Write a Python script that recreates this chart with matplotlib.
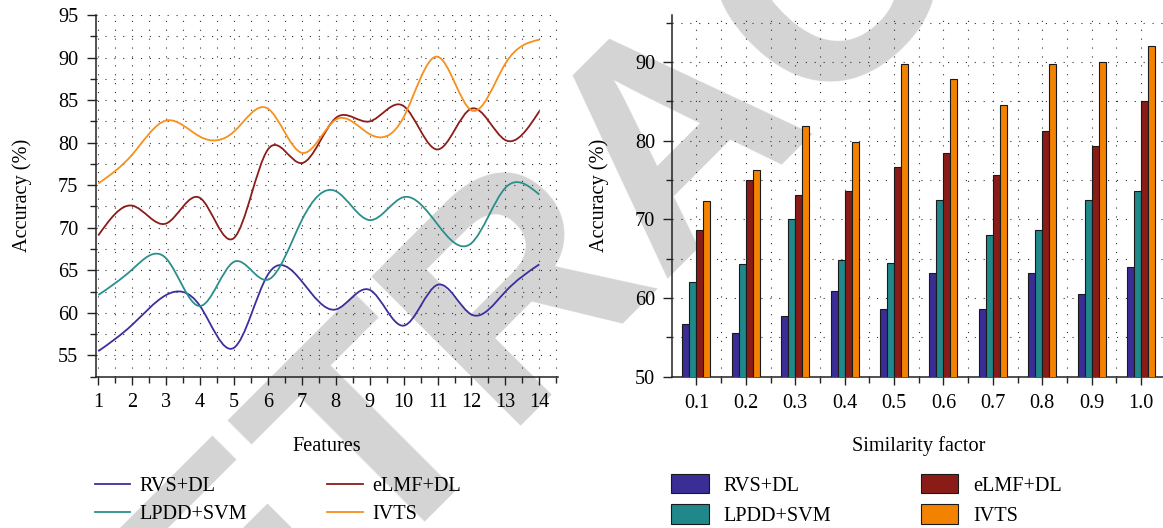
import numpy as np
import matplotlib
matplotlib.use('Agg')
import matplotlib.pyplot as plt
from matplotlib.path import Path
from matplotlib.patches import PathPatch, Patch
from matplotlib.lines import Line2D
from matplotlib.ticker import MultipleLocator, FixedLocator

plt.rcParams['font.family'] = ['Liberation Serif', 'DejaVu Serif']
plt.rcParams['font.size'] = 14.6

# ---------------- data ----------------
features = list(range(1, 15))
rvs_dl_line = [55.5, 58.6, 62.1, 60.8, 55.9, 64.5, 63.7, 60.4, 62.7, 58.5, 63.3, 59.8, 62.5, 65.7]
lpdd_svm_line = [62.1, 65.1, 66.4, 60.8, 66.0, 63.9, 70.9, 74.3, 70.9, 73.6, 70.4, 68.2, 74.7, 73.9]
elmf_dl_line = [69.1, 72.6, 70.5, 73.5, 68.8, 79.2, 77.6, 82.9, 82.5, 84.3, 79.2, 84.0, 80.3, 83.7]
ivts_line = [75.2, 78.6, 82.6, 80.7, 81.3, 84.0, 78.8, 82.7, 81.0, 83.0, 90.1, 83.8, 89.3, 92.1]

similarity = ['0.1', '0.2', '0.3', '0.4', '0.5', '0.6', '0.7', '0.8', '0.9', '1.0']
rvs_dl_bar = [56.7, 55.6, 57.7, 60.9, 58.6, 63.15, 58.6, 63.15, 60.5, 63.9]
lpdd_svm_bar = [62.1, 64.3, 70.1, 64.8, 64.4, 72.5, 68.0, 68.6, 72.5, 73.6]
elmf_dl_bar = [68.7, 75.0, 73.15, 73.6, 76.7, 78.5, 75.7, 81.2, 79.4, 85.0]
ivts_bar = [72.3, 76.3, 81.9, 79.8, 89.8, 87.8, 84.5, 89.8, 90.0, 92.0]

methods = ['RVS+DL', 'LPDD+SVM', 'eLMF+DL', 'IVTS']
line_colors = ['#3b2f9e', '#2a8f8c', '#8b1c1a', '#f7901e']
bar_colors = ['#3a2d96', '#20878a', '#8a1c18', '#f28200']


def smooth_path(x, y):
    """Natural cubic spline through the data, expressed as Bezier segments."""
    x = np.asarray(x, float)
    y = np.asarray(y, float)
    n = len(x)
    h = np.diff(x)
    A = np.zeros((n, n))
    r = np.zeros(n)
    A[0, 0] = A[-1, -1] = 1
    for i in range(1, n - 1):
        A[i, i - 1] = h[i - 1]
        A[i, i] = 2 * (h[i - 1] + h[i])
        A[i, i + 1] = h[i]
        r[i] = 6 * ((y[i + 1] - y[i]) / h[i] - (y[i] - y[i - 1]) / h[i - 1])
    M = np.linalg.solve(A, r)
    d = np.zeros(n)
    for i in range(n - 1):
        d[i] = (y[i + 1] - y[i]) / h[i] - h[i] * (2 * M[i] + M[i + 1]) / 6
    d[-1] = (y[-1] - y[-2]) / h[-1] + h[-1] * (M[-2] + 2 * M[-1]) / 6
    verts = [(x[0], y[0])]
    codes = [Path.MOVETO]
    for i in range(n - 1):
        verts += [(x[i] + h[i] / 3, y[i] + h[i] * d[i] / 3),
                  (x[i + 1] - h[i] / 3, y[i + 1] - h[i] * d[i + 1] / 3),
                  (x[i + 1], y[i + 1])]
        codes += [Path.CURVE4] * 3
    return Path(verts, codes)


W, H = 1163, 528
fig = plt.figure(figsize=(W / 100, H / 100), dpi=100)

# watermark
fig.text(679 / W, 1 - 135 / H, 'RETRACTED', rotation=45, rotation_mode='anchor',
         fontsize=220, color='#d4d4d4', ha='center', va='center',
         fontweight='bold', family='Liberation Sans', zorder=-10)

grid_kw = dict(color='#333333', linestyle=(0, (1, 7)), linewidth=0.8)


def style_axes(ax):
    ax.set_facecolor('none')
    for s in ['top', 'right']:
        ax.spines[s].set_visible(False)
    for s in ['left', 'bottom']:
        ax.spines[s].set_linewidth(1.1)
        ax.spines[s].set_color('#222222')
    ax.tick_params(which='major', direction='out', length=6.5, width=1.0, color='#222222', pad=5.8)
    ax.tick_params(which='minor', direction='out', length=4.3, width=1.0, color='#222222')
    ax.tick_params(axis='x', which='major', length=6, pad=6)
    ax.grid(True, which='both', **grid_kw)
    ax.set_axisbelow(True)


# ---------------- left: line chart ----------------
ax1 = fig.add_axes([95.5 / W, 1 - 376.7 / H, (558 - 95.5) / W, (376.7 - 15) / H])
style_axes(ax1)
series_lines = [rvs_dl_line, lpdd_svm_line, elmf_dl_line, ivts_line]
for vals, c in zip(series_lines, line_colors):
    ax1.add_patch(PathPatch(smooth_path(features, vals), facecolor='none',
                            edgecolor=c, linewidth=1.3, zorder=3))
ax1.set_xlim(0.918, 14.55)
ax1.set_ylim(52.5, 95)
ax1.xaxis.set_major_locator(FixedLocator(features))
ax1.xaxis.set_minor_locator(MultipleLocator(0.5))
ax1.yaxis.set_major_locator(MultipleLocator(5))
ax1.yaxis.set_minor_locator(MultipleLocator(2.5))
ax1.set_xlabel('Features', labelpad=18)
ax1.set_ylabel('Accuracy (%)', labelpad=18.8)

line_handles = [Line2D([], [], color=c, linewidth=1.3) for c in line_colors]
ax1.legend(line_handles, methods, ncol=2,
           loc='upper left', bbox_to_anchor=(95 / W, 1 - 477 / H),
           bbox_transform=fig.transFigure, frameon=False,
           handlelength=1.75, handletextpad=0.45, columnspacing=3.95,
           labelspacing=0.42, borderpad=0, borderaxespad=0)

# ---------------- right: bar chart ----------------
ax2 = fig.add_axes([672.2 / W, 1 - 376.7 / H, (1165.7 - 672.2) / W, (376.7 - 15) / H])
style_axes(ax2)
xpos = np.arange(len(similarity))
bw = 0.141
series_bars = [rvs_dl_bar, lpdd_svm_bar, elmf_dl_bar, ivts_bar]
for k, (vals, c) in enumerate(zip(series_bars, bar_colors)):
    ax2.bar(xpos + (k - 1.5) * bw, vals, width=bw, bottom=0, color=c,
            edgecolor='#1a1a1a', linewidth=0.8, zorder=3)
ax2.set_xlim(-0.49, 9.5)
ax2.set_ylim(50, 96)
ax2.set_xticks(xpos)
ax2.set_xticklabels(similarity)
ax2.xaxis.set_minor_locator(FixedLocator(xpos[:-1] + 0.5))
ax2.yaxis.set_major_locator(MultipleLocator(10))
ax2.yaxis.set_minor_locator(MultipleLocator(5))
ax2.tick_params(axis='x', which='major', pad=6.5)
ax2.set_xlabel('Similarity factor', labelpad=16.5)
ax2.set_ylabel('Accuracy (%)', labelpad=18.7)

bar_handles = [Patch(facecolor=c, edgecolor='#1a1a1a', linewidth=0.8) for c in bar_colors]
ax2.legend(bar_handles, methods, ncol=2, loc='upper left',
           bbox_to_anchor=(671 / W, 1 - 474 / H), bbox_transform=fig.transFigure,
           frameon=False, handlelength=1.85, handleheight=1.1,
           handletextpad=0.75, columnspacing=4.4, labelspacing=0.42,
           borderpad=0, borderaxespad=0)

fig.savefig('out.png', dpi=100)
